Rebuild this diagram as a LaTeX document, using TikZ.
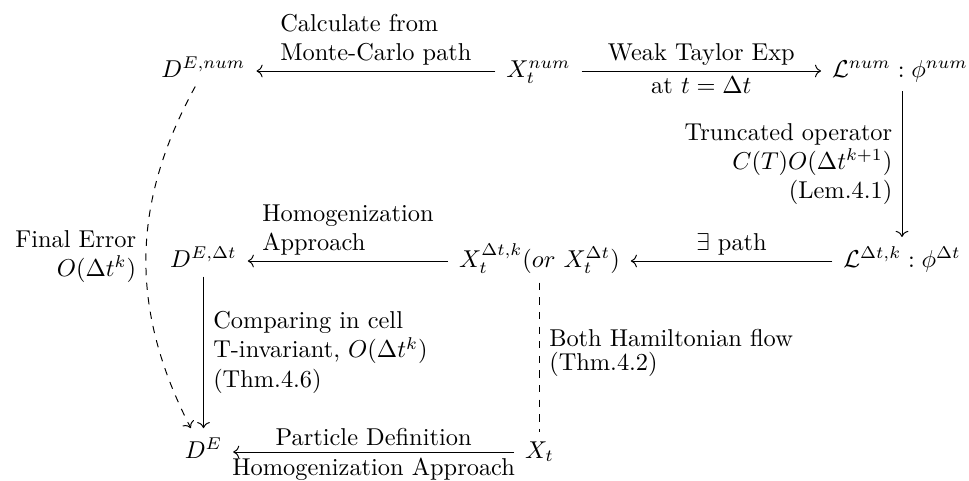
\documentclass[tikz,border=0pt]{standalone}
\usetikzlibrary{cd,arrows.meta}
\begin{document}
\begin{tikzpicture}[x=0.41pt,y=-0.41pt,
  cell/.style={shape=asymmetrical rectangle, inner xsep=1ex, inner ysep=0.85ex},
  arr/.style={-{cm to}, line width=0.4pt},
  lbl/.style={inner xsep=3.8pt, inner ysep=2.2pt},
]
\useasboundingbox (0,0) rectangle (969,481);
\node[cell] (DEnum) at (203.5,71) {$D^{E,num}$};
\node[cell] (Xnum) at (538.5,71) {$X_t^{num}$};
\node[cell] (Lnum) at (900,71) {$\mathcal{L}^{num}:\phi^{num}$};
\node[cell] (DEDt) at (203.5,261) {$D^{E,\Delta t}$};
\node[cell] (XDt) at (539.5,261) {$X_t^{\Delta t,k}(or\ X_t^{\Delta t})$};
\node[cell] (LDt) at (902,261) {$\mathcal{L}^{\Delta t,k}:\phi^{\Delta t}$};
\node[cell] (DE) at (203.5,452) {$D^{E}$};
\node[cell] (Xt) at (539.5,452) {$X_t$};

\draw[arr] (Xnum) -- node[midway,above,lbl,align=left] {Calculate from\\Monte-Carlo path} (DEnum);
\draw[arr] (Xnum) -- node[midway,above,lbl] {Weak Taylor Exp} node[midway,below,lbl] {at $t=\Delta t$} (Lnum);
\draw[arr] (Lnum.south -| LDt) -- node[midway,left,lbl,align=right] {Truncated operator\\$C(T)O(\Delta t^{k+1})$\\(Lem.4.1)} (LDt);
\draw[arr] (LDt) -- node[midway,above,lbl] {$\exists$ path} (XDt);
\draw[arr] (XDt) -- node[midway,above,lbl,align=left] {Homogenization\\Approach} (DEDt);
\draw[arr] (DEDt) -- node[midway,right,lbl,align=left] {Comparing in cell\\T-invariant, $O(\Delta t^k)$\\(Thm.4.6)} (DE);
\draw[arr,dashed] (DEnum) to[bend right=28] node[midway,left,lbl,align=right] {Final Error\\$O(\Delta t^k)$} (DE);
\draw[dashed] (XDt) -- node[pos=0.47,right,lbl,align=left] {Both Hamiltonian flow\\[-2pt](Thm.4.2)} (Xt);
\draw[arr] (Xt) -- node[midway,above,lbl] {Particle Definition} node[midway,below,lbl] {Homogenization Approach} (DE);
\end{tikzpicture}
\end{document}
